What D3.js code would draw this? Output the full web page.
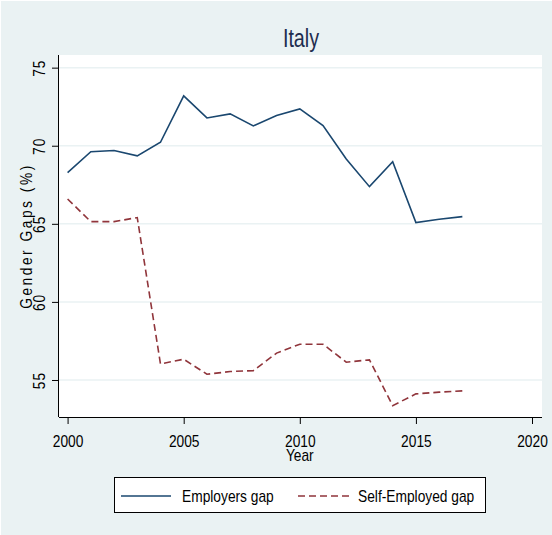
<!DOCTYPE html>
<html>
<head>
<meta charset="utf-8">
<script src="https://cdn.jsdelivr.net/npm/d3@7"></script>
<style>
  html, body { margin: 0; padding: 0; background: #fff; }
  svg text { font-family: "Liberation Sans", Arial, sans-serif; fill: #000; }
</style>
</head>
<body>
<div id="chart"></div>
<script>
// values
var years = [2000, 2001, 2002, 2003, 2004, 2005, 2006, 2007, 2008, 2009,
             2010, 2011, 2012, 2013, 2014, 2015, 2016, 2017];
var employersGap = [68.28, 69.62, 69.69, 69.35, 70.22, 73.19, 71.78, 72.04, 71.27, 71.93,
                    72.36, 71.29, 69.15, 67.38, 68.98, 65.08, 65.29, 65.46];
var selfEmployedGap = [66.59, 65.14, 65.14, 65.40, 56.03, 56.33, 55.37, 55.54, 55.60, 56.72,
                       57.29, 57.29, 56.14, 56.29, 53.36, 54.11, 54.22, 54.30];
var xTicks = [2000, 2005, 2010, 2015, 2020];
var yTicks = [55, 60, 65, 70, 75];
var seriesNames = ["Employers gap", "Self-Employed gap"];

var W = 552, H = 535;
var plot = {left: 59, right: 542, top: 55, bottom: 417};
var narrow = 0.84; // squeeze the text like Stata's condensed font

var svg = d3.select("#chart").append("svg")
  .attr("width", W)
  .attr("height", H);

// graph region background
svg.append("rect")
  .attr("x", 1).attr("y", 1)
  .attr("width", W - 1).attr("height", H - 1)
  .attr("fill", "#eaf2f3");

// plot region
svg.append("rect")
  .attr("x", plot.left).attr("y", plot.top)
  .attr("width", plot.right - plot.left).attr("height", plot.bottom - plot.top)
  .attr("fill", "#fff");

var x = d3.scaleLinear().domain([1999.63, 2020.43]).range([plot.left, plot.right]);
var y = d3.scaleLinear().domain([52.63, 75.81]).range([plot.bottom, plot.top]);

// gridlines
svg.append("g")
  .selectAll("line")
  .data(yTicks)
  .enter()
  .append("line")
    .attr("x1", plot.left).attr("x2", plot.right)
    .attr("y1", function(d) { return y(d); })
    .attr("y2", function(d) { return y(d); })
    .attr("stroke", "#eaf2f3")
    .attr("stroke-width", 1.5);

// axes
var xAxis = svg.append("g")
  .attr("transform", "translate(0," + plot.bottom + ")")
  .call(d3.axisBottom(x).tickValues(xTicks).tickFormat(d3.format("d")).tickSize(7).tickSizeOuter(0));
xAxis.select(".domain").attr("d", "M" + plot.left + ",0.5H" + plot.right).attr("stroke", "#000");
xAxis.selectAll(".tick line").attr("stroke", "#000");
xAxis.selectAll(".tick text")
  .attr("y", 0).attr("dy", 0)
  .attr("transform", "translate(0,29.5) scale(" + narrow + ",1)")
  .style("font-size", "16.4px");

var yAxis = svg.append("g")
  .attr("transform", "translate(" + plot.left + ",0)")
  .call(d3.axisLeft(y).tickValues(yTicks).tickSize(7).tickSizeOuter(0));
yAxis.select(".domain").attr("d", "M-0.5," + plot.top + "V" + plot.bottom).attr("stroke", "#000");
yAxis.selectAll(".tick line").attr("stroke", "#000");
yAxis.selectAll(".tick text")
  .attr("x", 0).attr("dy", 0)
  .attr("transform", "translate(-14,0) rotate(-90) scale(" + narrow + ",1)")
  .attr("text-anchor", "middle")
  .style("letter-spacing", "1.2px")
  .style("font-size", "16.4px");

// axis titles
svg.append("text")
  .attr("transform", "translate(" + x(2010) + ",461) scale(" + narrow + ",1)")
  .attr("text-anchor", "middle")
  .style("font-size", "16.4px")
  .text("Year");

svg.append("text")
  .attr("transform", "translate(31.5,236) rotate(-90) scale(" + narrow + ",1)")
  .attr("text-anchor", "middle")
  .style("font-size", "16.4px")
  .style("letter-spacing", "3px")
  .text("Gender Gaps (%)");

// title
svg.append("text")
  .attr("transform", "translate(301,47) scale(0.76,1)")
  .attr("text-anchor", "middle")
  .style("font-size", "26px")
  .style("fill", "#1e2d4f")
  .text("Italy");

// lines
var line = d3.line()
  .x(function(d, i) { return x(years[i]); })
  .y(function(d) { return y(d); });

svg.append("path")
  .datum(employersGap)
  .attr("d", line)
  .attr("fill", "none")
  .attr("stroke", "#1a476f")
  .attr("stroke-width", 1.6);

svg.append("path")
  .datum(selfEmployedGap)
  .attr("d", line)
  .attr("fill", "none")
  .attr("stroke", "#90353b")
  .attr("stroke-width", 1.6)
  .attr("stroke-dasharray", "7,4");

// legend
var legend = svg.append("g");
legend.append("rect")
  .attr("x", 114.5).attr("y", 477.5)
  .attr("width", 371).attr("height", 35)
  .attr("fill", "#fff")
  .attr("stroke", "#000")
  .attr("stroke-width", 1);

var legendItems = [
  {name: seriesNames[0], color: "#1a476f", dash: null, x1: 121, x2: 171, tx: 182},
  {name: seriesNames[1], color: "#90353b", dash: "7,4", x1: 298, x2: 352, tx: 358}
];
legend.selectAll("line.key")
  .data(legendItems)
  .enter()
  .append("line")
    .attr("class", "key")
    .attr("x1", function(d) { return d.x1; })
    .attr("x2", function(d) { return d.x2; })
    .attr("y1", 496).attr("y2", 496)
    .attr("stroke", function(d) { return d.color; })
    .attr("stroke-width", 1.6)
    .attr("stroke-dasharray", function(d) { return d.dash; });
legend.selectAll("text")
  .data(legendItems)
  .enter()
  .append("text")
    .attr("transform", function(d) { return "translate(" + d.tx + ",501.5) scale(" + narrow + ",1)"; })
    .style("font-size", "16.4px")
    .text(function(d) { return d.name; });
</script>
</body>
</html>
